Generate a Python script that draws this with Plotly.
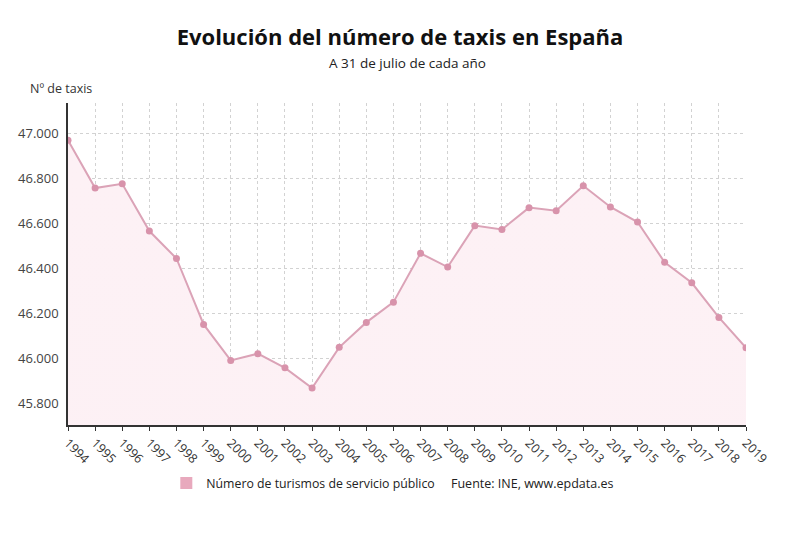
import plotly.graph_objects as go

years = [str(y) for y in range(1994, 2020)]
taxis = [46969, 46757, 46776, 46566, 46444, 46151, 45991, 46021, 45958, 45868,
         46049, 46160, 46250, 46467, 46406, 46590, 46573, 46670, 46656, 46767,
         46673, 46606, 46427, 46336, 46182, 46047]
y_ticks = [45800, 46000, 46200, 46400, 46600, 46800, 47000]

LINE = "#dba3b7"
MARK = "#d893ab"
FONT = "Open Sans"

fig = go.Figure()
fig.add_trace(go.Scatter(
    x=years, y=taxis, mode="lines+markers",
    line=dict(color=LINE, width=2),
    marker=dict(color=MARK, size=7),
    fill="tozeroy",
    fillgradient=dict(type="vertical",
                      colorscale=[[0, "rgb(252,228,236)"], [1, "rgb(253,241,245)"]]),
    showlegend=False,
    hoverinfo="x+y",
))
fig.add_trace(go.Scatter(
    x=[None], y=[None], mode="markers",
    marker=dict(color="#e8a9bd", size=9, symbol="square"),
    name="Número de turismos de servicio público",
    showlegend=True,
))

fig.update_layout(
    width=800, height=539,
    margin=dict(l=68, r=54, t=103, b=114),
    paper_bgcolor="white", plot_bgcolor="white",
    font=dict(family=FONT, color="#333333", size=12),
    separators=",.",
    title=dict(text="<b>Evolución del número de taxis en España</b>",
               x=0.5, xanchor="center", y=1 - 37 / 539, yanchor="middle",
               font=dict(family=FONT, size=22, color="#111111")),
    legend=dict(orientation="h", x=0.145, xanchor="left", y=-0.18, yanchor="middle",
                font=dict(family=FONT, size=12.3, color="#222222"),
                itemsizing="constant", bgcolor="rgba(0,0,0,0)"),
    xaxis=dict(type="category", tickangle=45, showgrid=True,
               gridcolor="#d2d2d2", griddash="dot", gridwidth=1,
               showline=True, linecolor="#333333", linewidth=1.5,
               ticks="outside", ticklen=4, tickcolor="#333333",
               tickfont=dict(family=FONT, size=12.5, color="#333333"),
               range=[0, len(years) - 1], fixedrange=True),
    yaxis=dict(range=[45704, 47135], tickvals=y_ticks, tickformat=",d",
               showgrid=True, gridcolor="#d2d2d2", griddash="dot", gridwidth=1,
               showline=True, linecolor="#333333", linewidth=1.5,
               zeroline=False, ticks="", ticklabelstandoff=5,
               tickfont=dict(family=FONT, size=13, color="#444444")),
    annotations=[
        dict(text="A 31 de julio de cada año", xref="paper", yref="paper",
             x=0.5, y=1.0, yshift=40, xanchor="center", yanchor="middle",
             showarrow=False, font=dict(family=FONT, size=13.5, color="#222222")),
        dict(text="Nº de taxis", xref="paper", yref="paper",
             x=0, xshift=-40, y=1.0, yshift=15, xanchor="left", yanchor="middle",
             showarrow=False, font=dict(family=FONT, size=12.5, color="#333333")),
        dict(text="Fuente: INE, www.epdata.es", xref="paper", yref="paper",
             x=0, xshift=381, y=0, yshift=-58, xanchor="left", yanchor="middle",
             showarrow=False, font=dict(family=FONT, size=12.5, color="#222222")),
    ],
)

fig.write_html("out.html")
